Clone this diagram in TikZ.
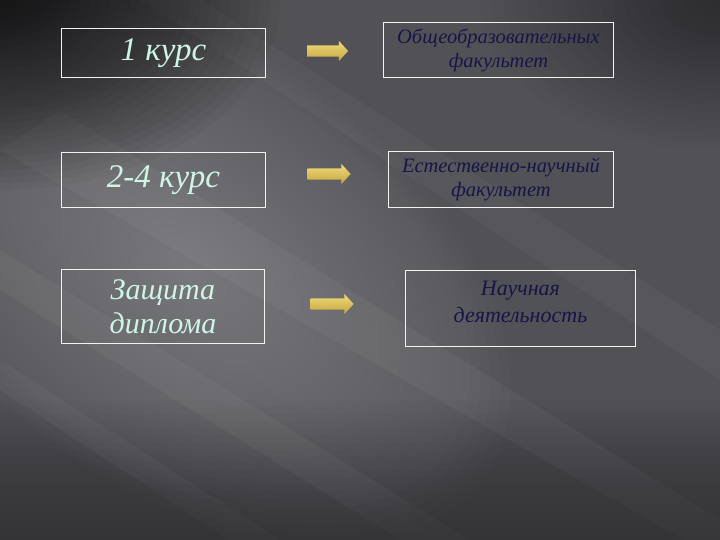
\documentclass[tikz,border=0pt]{standalone}
\usepackage{fontspec}
\setmainfont{Liberation Serif}
\usetikzlibrary{shapes.arrows}
\definecolor{bgbase}{HTML}{525256}
\definecolor{bglight}{HTML}{9A9A9E}
\definecolor{mint}{HTML}{CFF5E3}
\definecolor{navy}{HTML}{15154A}
\definecolor{goldtop}{HTML}{F0DC7C}
\definecolor{goldbot}{HTML}{C4A43E}
\tikzset{
  box/.style={draw=white!90!gray, line width=0.9pt, inner sep=0pt, anchor=north west},
  lefttext/.style={text=mint, font=\itshape\fontsize{33}{36}\selectfont, align=center},
  righttext/.style={text=navy, font=\itshape\fontsize{20.5}{24}\selectfont, align=center},
  goldarrow/.style={single arrow, draw=none, top color=goldtop, bottom color=goldbot,
    minimum height=41pt, inner xsep=0pt, inner ysep=5.5pt,
    single arrow head extend=4.5pt, single arrow tip angle=95}
}
\begin{document}
\begin{tikzpicture}[x=1pt,y=-1pt]
\useasboundingbox (0,0) rectangle (720,540);
% background
\fill[bgbase] (0,0) rectangle (720,540);
\foreach \k in {1,...,32}{
  \fill[bglight, opacity=0.033, rotate around={-35:(190,270)}] (190,270) ellipse ({360*\k/32} and {220*\k/32});
}
\fill[white, opacity=0.04] (0,150) -- (60,110) -- (720,520) -- (720,560) -- cycle;
\fill[white, opacity=0.04] (0,250) -- (0,290) -- (400,540) -- (470,540) -- cycle;
\fill[white, opacity=0.035] (0,360) -- (0,390) -- (230,540) -- (280,540) -- cycle;
\fill[white, opacity=0.03] (140,0) -- (200,0) -- (720,330) -- (720,380) -- cycle;
\foreach \k in {0,...,19}{
  \fill[black, opacity=0.015] (0,{400+7*\k}) rectangle (720,540);
}
\foreach \k in {1,...,28}{
  \fill[black, opacity=0.035] (0,0) ellipse ({280*\k/28} and {190*\k/28});
}
\foreach \k in {1,...,20}{
  \fill[black, opacity=0.02] (720,0) ellipse ({240*\k/20} and {150*\k/20});
}
% boxes
\node[box, minimum width=204pt, minimum height=49pt] (l1) at (61,28) {};
\node[lefttext] at (l1.center) {1 курс};
\node[box, minimum width=230pt, minimum height=55pt] (r1) at (383,22) {};
\node[righttext] at (r1.center) {Общеобразовательных\\факультет};
\node[box, minimum width=204pt, minimum height=55pt] (l2) at (61,152) {};
\node[lefttext] at (l2.center) {2-4 курс};
\node[box, minimum width=225pt, minimum height=56pt] (r2) at (388,151) {};
\node[righttext] at (r2.center) {Естественно-научный\\факультет};
\node[box, minimum width=203pt, minimum height=74pt] (l3) at (61,269) {};
\node[lefttext, font=\itshape\fontsize{30}{34}\selectfont] at (l3.center) {Защита\\диплома};
\node[box, minimum width=230pt, minimum height=76pt] (r3) at (405,270) {};
\node[righttext, font=\itshape\fontsize{22}{27}\selectfont, anchor=north] at ([yshift=-8pt]r3.north) {Научная\\деятельность};
% arrows
\node[goldarrow] (a1) at (325,51) {};
\node[goldarrow, minimum height=43pt] (a2) at (326.5,174) {};
\node[goldarrow, minimum height=43pt] (a3) at (329.5,304) {};
\end{tikzpicture}
\end{document}
